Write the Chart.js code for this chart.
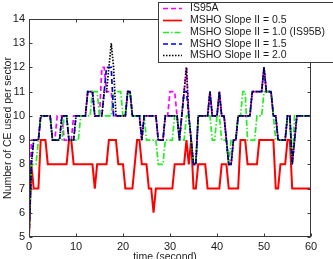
<!DOCTYPE html>
<html lang="en">
<head>
    <meta charset="UTF-8">
    <title>Number of CE used per sector</title>
    <script src="https://cdn.jsdelivr.net/npm/chart.js"></script>
    <style>
        html, body {
            margin: 0;
            padding: 0;
            background: #fff;
            overflow: hidden;
        }
        .chart-box {
            position: relative;
            width: 333px;
            height: 259px;
        }
    </style>
</head>
<body>
    <div class="chart-box">
        <canvas id="ceChart"></canvas>
    </div>

    <script>
        // sampled every 0.5 s, 0..60 s
        const step = 0.5;
        const xTicks = [0, 10, 20, 30, 40, 50, 60];
        const yTicks = [5, 6, 7, 8, 9, 10, 11, 12, 13, 14];
        const seriesNames = ['IS95A', 'MSHO Slope II = 0.5', 'MSHO Slope II = 1.0 (IS95B)', 'MSHO Slope II = 1.5', 'MSHO Slope II = 2.0'];

        const is95a = [
            5, 9, 9, 9, 9, 10, 10, 10, 10, 10,
            9, 9, 10, 10, 10, 9, 9, 9, 9, 10,
            10, 10, 10, 10, 10, 11, 11, 11, 10, 10,
            10, 12, 12, 11, 11, 11, 10, 10, 10, 10,
            10, 10, 11, 11, 10, 10, 10, 10, 9, 10,
            10, 10, 10, 10, 10, 9, 9, 9, 10, 10,
            11, 11, 11, 10, 9, 10, 11, 12, 10, 9,
            8, 8, 10, 10, 10, 10, 10, 11, 10, 10,
            10, 11, 10, 10, 9, 8, 8, 9, 9, 10,
            10, 10, 10, 10, 10, 11, 11, 11, 11, 11,
            12, 11, 11, 11, 10, 10, 9, 9, 9, 9,
            10, 10, 8, 9, 10, 10, 10, 10, 10, 10,
            10
        ];
        const slope05 = [
            5, 8, 7, 7, 7, 9, 9, 9, 8, 8,
            8, 8, 8, 8, 8, 8, 8, 9, 9, 8,
            8, 8, 8, 8, 8, 8, 8, 8, 7, 8,
            8, 8, 8, 8, 9, 9, 9, 9, 8, 8,
            8, 7, 7, 7, 7, 8, 9, 9, 8, 8,
            8, 7, 7, 6, 7, 7, 7, 7, 7, 7,
            7, 7, 8, 8, 8, 8, 8, 9, 8, 9,
            7, 7, 8, 8, 8, 8, 7, 7, 7, 7,
            7, 7, 8, 8, 8, 7, 7, 7, 7, 7,
            9, 9, 9, 8, 8, 8, 8, 8, 9, 9,
            9, 9, 9, 9, 9, 7, 7, 8, 8, 8,
            9, 9, 7, 7, 7, 7, 7, 7, 7, 7,
            7
        ];
        const slope10 = [
            5, 8, 8, 8, 9, 10, 10, 10, 10, 10,
            9, 9, 9, 9, 9, 10, 10, 9, 9, 9,
            9, 9, 10, 10, 10, 10, 10, 11, 11, 11,
            10, 10, 10, 10, 10, 10, 11, 11, 11, 11,
            10, 10, 11, 11, 10, 10, 10, 10, 10, 10,
            9, 9, 9, 9, 9, 8, 8, 8, 9, 9,
            9, 9, 10, 10, 9, 9, 9, 10, 10, 9,
            8, 8, 10, 10, 10, 10, 10, 10, 9, 9,
            10, 10, 9, 9, 9, 8, 9, 9, 9, 10,
            10, 11, 11, 9, 9, 9, 9, 10, 10, 10,
            11, 11, 11, 11, 10, 9, 9, 9, 9, 9,
            10, 10, 8, 10, 10, 10, 10, 10, 10, 10,
            10
        ];
        const slope15 = [
            5, 8, 9, 9, 9, 10, 10, 10, 10, 10,
            9, 9, 9, 9, 10, 10, 10, 9, 9, 9,
            10, 10, 10, 10, 10, 11, 11, 11, 10, 10,
            10, 10, 11, 12, 12, 12, 10, 10, 10, 10,
            10, 10, 11, 11, 10, 10, 10, 10, 9, 10,
            10, 10, 10, 10, 10, 9, 9, 9, 10, 10,
            10, 10, 10, 10, 9, 10, 11, 11, 10, 9,
            8, 8, 10, 10, 10, 10, 10, 11, 10, 10,
            10, 11, 10, 10, 9, 8, 8, 9, 9, 10,
            10, 10, 10, 10, 10, 11, 11, 11, 11, 11,
            12, 11, 11, 11, 10, 10, 9, 9, 9, 9,
            10, 10, 8, 9, 10, 10, 10, 10, 10, 10,
            10
        ];
        const slope20 = [
            5, 8, 9, 9, 9, 10, 10, 10, 10, 10,
            9, 9, 9, 9, 10, 10, 10, 9, 9, 9,
            10, 10, 10, 10, 10, 11, 11, 11, 10, 10,
            10, 10, 11, 11, 12, 13, 12, 10, 10, 10,
            10, 10, 11, 11, 10, 10, 10, 10, 9, 10,
            10, 10, 10, 10, 10, 9, 9, 9, 10, 10,
            10, 10, 10, 10, 9, 10, 11, 12, 10, 9,
            8, 8, 10, 10, 10, 10, 10, 11, 10, 10,
            10, 11, 10, 10, 9, 8, 8, 9, 9, 10,
            10, 10, 10, 10, 10, 11, 11, 11, 11, 11,
            12, 11, 11, 11, 10, 10, 9, 9, 9, 9,
            10, 10, 8, 9, 10, 10, 10, 10, 10, 10,
            10
        ];

        const colors = ['#ff00ff', '#ff0000', '#22ee22', '#0000e6', '#000000'];
        const dashes = [[5, 3], [], [6, 2, 1.5, 2], [5, 3], [1.5, 1.5]];
        const seriesValues = [is95a, slope05, slope10, slope15, slope20];

        const FONT = "'Liberation Sans', Arial, sans-serif";

        function toPoints(vals) {
            return vals.map((v, i) => ({ x: i * step, y: v }));
        }

        // box + inward ticks, axis titles and the legend, matlab style
        const framePlugin = {
            id: 'matlabFrame',
            afterDraw(chart) {
                const { ctx, chartArea: a, scales } = chart;
                const L = a.left + 0.5, R = a.right - 0.5, T = a.top + 0.5, B = a.bottom - 0.5;
                ctx.save();
                ctx.strokeStyle = '#3a3a3a';
                ctx.lineWidth = 1;
                ctx.setLineDash([]);
                ctx.strokeRect(L, T, R - L, B - T);

                ctx.beginPath();
                yTicks.forEach(v => {
                    const py = Math.round(scales.y.getPixelForValue(v)) + 0.5;
                    ctx.moveTo(L, py); ctx.lineTo(L + 3, py);
                    ctx.moveTo(R, py); ctx.lineTo(R - 3, py);
                });
                xTicks.forEach(v => {
                    const px = Math.round(scales.x.getPixelForValue(v)) + 0.5;
                    ctx.moveTo(px, B); ctx.lineTo(px, B - 3);
                    ctx.moveTo(px, T); ctx.lineTo(px, T + 3);
                });
                ctx.stroke();

                // axis titles
                ctx.fillStyle = '#1a1a1a';
                ctx.font = '10.5px ' + FONT;
                ctx.textAlign = 'center';
                ctx.textBaseline = 'top';
                ctx.fillText('time (second)', 165, 252);

                ctx.save();
                ctx.translate(8, 128);
                ctx.rotate(-Math.PI / 2);
                ctx.textBaseline = 'middle';
                ctx.fillText('Number of CE used per sector', 0, 0);
                ctx.restore();

                // legend
                ctx.fillStyle = '#fff';
                ctx.fillRect(158.5, 2.5, 190, 60);
                ctx.strokeStyle = '#3a3a3a';
                ctx.strokeRect(158.5, 2.5, 190, 60);
                const rowY = [8, 20, 32, 43.5, 55];
                ctx.font = '10.5px ' + FONT;
                ctx.textAlign = 'left';
                ctx.textBaseline = 'middle';
                seriesNames.forEach((name, i) => {
                    ctx.beginPath();
                    ctx.strokeStyle = colors[i];
                    ctx.lineWidth = 1.7;
                    ctx.setLineDash(dashes[i]);
                    ctx.moveTo(163, rowY[i] + 0.5);
                    ctx.lineTo(182, rowY[i] + 0.5);
                    ctx.stroke();
                    ctx.fillStyle = '#1a1a1a';
                    ctx.fillText(name, 190, rowY[i] + 0.5);
                });
                ctx.restore();
            }
        };

        const ctx = document.getElementById('ceChart').getContext('2d');
        new Chart(ctx, {
            type: 'line',
            data: {
                datasets: seriesNames.map((name, i) => ({
                    label: name,
                    data: toPoints(seriesValues[i]),
                    borderColor: colors[i],
                    borderDash: dashes[i],
                    borderWidth: i === 1 ? 2 : 1.7,
                    pointRadius: 0,
                    tension: 0,
                    fill: false,
                    order: 4 - i
                }))
            },
            options: {
                responsive: true,
                maintainAspectRatio: false,
                animation: false,
                layout: { padding: { top: 19, right: 22, left: 0, bottom: 0 } },
                scales: {
                    x: {
                        type: 'linear',
                        min: 0,
                        max: 60,
                        afterBuildTicks: s => { s.ticks = xTicks.map(v => ({ value: v })); },
                        afterFit: s => { s.height = 22; },
                        ticks: { color: '#1a1a1a', font: { family: FONT, size: 11 }, padding: 3, maxRotation: 0 },
                        grid: { display: false, drawTicks: false },
                        border: { display: false }
                    },
                    y: {
                        min: 5,
                        max: 14,
                        afterBuildTicks: s => { s.ticks = yTicks.map(v => ({ value: v })); },
                        afterFit: s => { s.width = 29; },
                        ticks: { color: '#1a1a1a', font: { family: FONT, size: 11 }, padding: 4 },
                        grid: { display: false, drawTicks: false },
                        border: { display: false }
                    }
                },
                plugins: {
                    legend: { display: false },
                    tooltip: { enabled: false }
                }
            },
            plugins: [framePlugin]
        });
    </script>
</body>
</html>
